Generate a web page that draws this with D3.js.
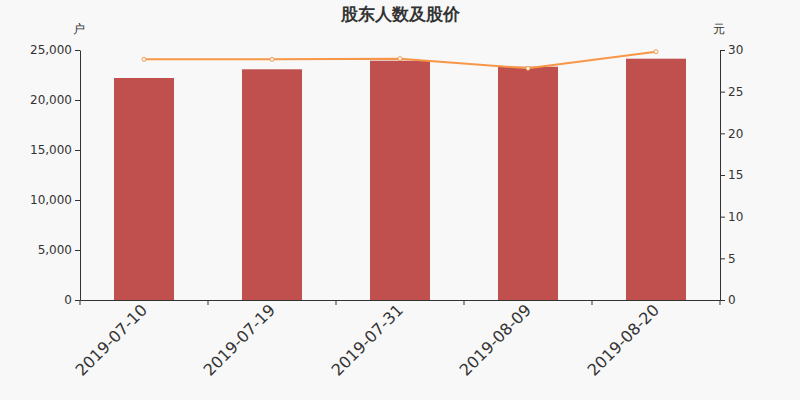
<html>
<script src='https://d3js.org/d3.v7.min.js'></script>
<style>
 body {margin:0; background:#f8f8f8;}
 text {font-family: "DejaVu Sans", sans-serif;}
 .axis path, .axis line {stroke:#333;}
 .axis text {fill:#333; font-size:12px;}
</style>
<body onload='init()'>
<svg width=800 height=400></svg>
<script>
var dates = ["2019-07-10", "2019-07-19", "2019-07-31", "2019-08-09", "2019-08-20"];
var holders = [22200, 23070, 23930, 23330, 24130];
var prices = [28.88, 28.88, 28.96, 27.8, 29.8];
var leftTicks = [0, 5000, 10000, 15000, 20000, 25000];
var rightTicks = [0, 5, 10, 15, 20, 25, 30];

function init() {
  var margin = {top: 50, right: 80, bottom: 100, left: 80},
      width = 800 - margin.left - margin.right,
      height = 400 - margin.top - margin.bottom;

  var svg = d3.select('svg');
  svg.append('rect').attr('width', 800).attr('height', 400).attr('fill', '#f8f8f8');

  var x = d3.scaleBand().domain(dates).range([0, width]).paddingInner(0.53125).paddingOuter(0.265625);
  var xb = d3.scaleBand().domain(dates).range([0, width]);
  var yl = d3.scaleLinear().domain([0, 25000]).range([height, 0]);
  var yr = d3.scaleLinear().domain([0, 30]).range([height, 0]);

  var g = svg.append('g').attr('transform', 'translate(' + margin.left + ',' + margin.top + ')');

  g.selectAll('rect.bar')
    .data(holders)
    .enter()
    .append('rect')
    .attr('class', 'bar')
    .attr('x', function(d, i) { return x(dates[i]); })
    .attr('y', function(d) { return yl(d); })
    .attr('width', x.bandwidth())
    .attr('height', function(d) { return height - yl(d); })
    .attr('fill', '#c0504d');

  var line = d3.line()
    .x(function(d, i) { return xb(dates[i]) + xb.bandwidth() / 2; })
    .y(function(d) { return yr(d); });

  g.append('path')
    .datum(prices)
    .attr('d', line)
    .attr('fill', 'none')
    .attr('stroke', '#f79646')
    .attr('stroke-width', 2);

  g.selectAll('circle')
    .data(prices)
    .enter()
    .append('circle')
    .attr('cx', function(d, i) { return xb(dates[i]) + xb.bandwidth() / 2; })
    .attr('cy', function(d) { return yr(d); })
    .attr('r', 2)
    .attr('fill', '#fff')
    .attr('stroke', '#f79646')
    .attr('stroke-width', 1);

  g.append('g').attr('class', 'axis')
    .call(d3.axisLeft(yl).tickValues(leftTicks).tickSize(5).tickSizeOuter(0).tickFormat(d3.format(',')));

  g.append('g').attr('class', 'axis')
    .attr('transform', 'translate(' + width + ',0)')
    .call(d3.axisRight(yr).tickValues(rightTicks).tickSize(5).tickSizeOuter(0));

  var xa = g.append('g').attr('class', 'axis')
    .attr('transform', 'translate(0,' + height + ')')
    .call(d3.axisBottom(xb).tickSize(0).tickSizeOuter(0));
  xa.selectAll('text')
    .style('font-size', '16px')
    .attr('text-anchor', 'end')
    .attr('dx', 0).attr('dy', 0)
    .attr('transform', function() { return 'translate(2,9) rotate(-45)'; });

  // boundary ticks between categories
  xa.selectAll('line.sep')
    .data(dates.concat(['end']))
    .enter()
    .append('line')
    .attr('class', 'sep')
    .attr('x1', function(d, i) { return i * xb.step(); })
    .attr('x2', function(d, i) { return i * xb.step(); })
    .attr('y1', 0).attr('y2', 5);

  svg.append('text').attr('x', 400).attr('y', 20).attr('text-anchor', 'middle')
    .style('font-size', '17px').style('font-weight', 'bold').attr('fill', '#333')
    .text('股东人数及股价');
  svg.append('text').attr('x', 79).attr('y', 33).attr('text-anchor', 'middle')
    .style('font-size', '12px').attr('fill', '#333').text('户');
  svg.append('text').attr('x', 719).attr('y', 33).attr('text-anchor', 'middle')
    .style('font-size', '12px').attr('fill', '#333').text('元');
}
</script>
</body>
</html>
